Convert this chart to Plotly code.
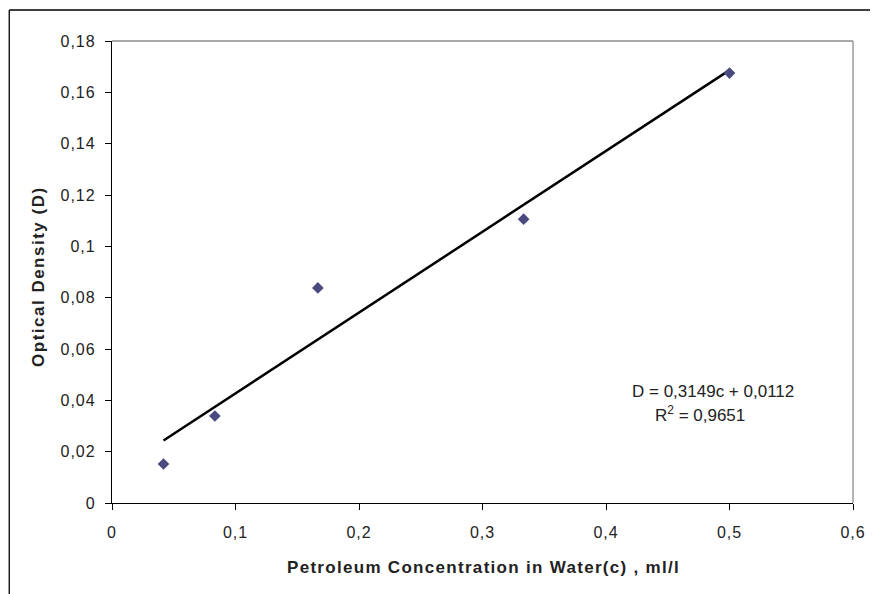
import plotly.graph_objects as go

# Data
concentration = [0.0417, 0.0833, 0.1667, 0.3333, 0.5]
optical_density = [0.0152, 0.0339, 0.0838, 0.1106, 0.1675]
slope = 0.3149
intercept = 0.0112
r_squared = 0.9651

x_tickvals = [0, 0.1, 0.2, 0.3, 0.4, 0.5, 0.6]
x_ticktext = ["0", "0,1", "0,2", "0,3", "0,4", "0,5", "0,6"]
y_tickvals = [0, 0.02, 0.04, 0.06, 0.08, 0.1, 0.12, 0.14, 0.16, 0.18]
y_ticktext = ["0", "0,02", "0,04", "0,06", "0,08", "0,1", "0,12", "0,14", "0,16", "0,18"]

trend_x = [min(concentration), max(concentration)]
trend_y = [slope * c + intercept for c in trend_x]

font_family = "Liberation Sans, Arial, sans-serif"
txt = "#222222"


def spaced(s, sp):
    return "<span style='letter-spacing:%spx'>%s</span>" % (sp, s)


fig = go.Figure()
fig.add_trace(go.Scatter(
    x=trend_x, y=trend_y, mode="lines",
    line=dict(color="black", width=2.5), showlegend=False, hoverinfo="skip"))
fig.add_trace(go.Scatter(
    x=concentration, y=optical_density, mode="markers",
    marker=dict(symbol="diamond", size=9, color="#4a4a80"),
    showlegend=False))

W, H = 870, 586
L, R, T, B = 104, 21, 33, 91
pw, ph = W - L - R, H - T - B


def px(xf):
    return (xf - L) / pw


def py(yf):
    return (T + ph - yf) / ph


fig.update_layout(
    width=W, height=H,
    margin=dict(l=L, r=R, t=T, b=B),
    paper_bgcolor="white", plot_bgcolor="white",
    font=dict(family=font_family, size=16, color=txt),
    xaxis=dict(
        range=[0, 0.6], tickvals=x_tickvals,
        ticktext=[spaced(t, 1) for t in x_ticktext],
        showgrid=False, zeroline=False, showline=True, linecolor="black", linewidth=1.3,
        ticks="outside", ticklen=6, tickcolor="black", tickwidth=1,
        ticklabelstandoff=9,
        tickfont=dict(size=16, color=txt),
    ),
    yaxis=dict(
        range=[0, 0.18], tickvals=y_tickvals,
        ticktext=[spaced(t, 1) for t in y_ticktext],
        showgrid=False, zeroline=False, showline=True, linecolor="black", linewidth=1.3,
        ticks="outside", ticklen=6, tickcolor="black", tickwidth=1,
        ticklabelstandoff=6,
        tickfont=dict(size=16, color=txt),
    ),
    shapes=[
        dict(type="line", xref="paper", yref="paper", x0=0, x1=1, y0=1, y1=1,
             line=dict(color="#8c8c8c", width=1.3)),
        dict(type="line", xref="paper", yref="paper", x0=1, x1=1, y0=0, y1=1,
             line=dict(color="#8c8c8c", width=1.3)),
        # outer chart frame (top and left)
        dict(type="line", xref="paper", yref="paper",
             x0=px(0.7), x1=px(W + 5), y0=py(2), y1=py(2),
             line=dict(color="black", width=1.3)),
        dict(type="line", xref="paper", yref="paper",
             x0=px(0.7), x1=px(0.7), y0=py(2), y1=py(H + 5),
             line=dict(color="black", width=1.3)),
    ],
    annotations=[
        dict(x=0.487, y=0.0436, xref="x", yref="y",
             text="D = 0,3149c + 0,0112",
             showarrow=False, font=dict(size=17, color=txt)),
        dict(x=0.476, y=0.0347, xref="x", yref="y",
             text="R<sup>2</sup> = 0,9651",
             showarrow=False, font=dict(size=17, color=txt)),
        dict(x=px(478), y=py(571), xref="paper", yref="paper",
             text="<b>" + spaced("Petroleum Concentration in Water(c) , ml/l", 1.3) + "</b>",
             showarrow=False, font=dict(size=17, color=txt)),
        dict(x=px(18), y=py(268), xref="paper", yref="paper", textangle=-90,
             text="<b>" + spaced("Optical Density (D)", 1.5) + "</b>",
             showarrow=False, font=dict(size=17, color=txt)),
    ],
)

fig.write_html("out.html")
